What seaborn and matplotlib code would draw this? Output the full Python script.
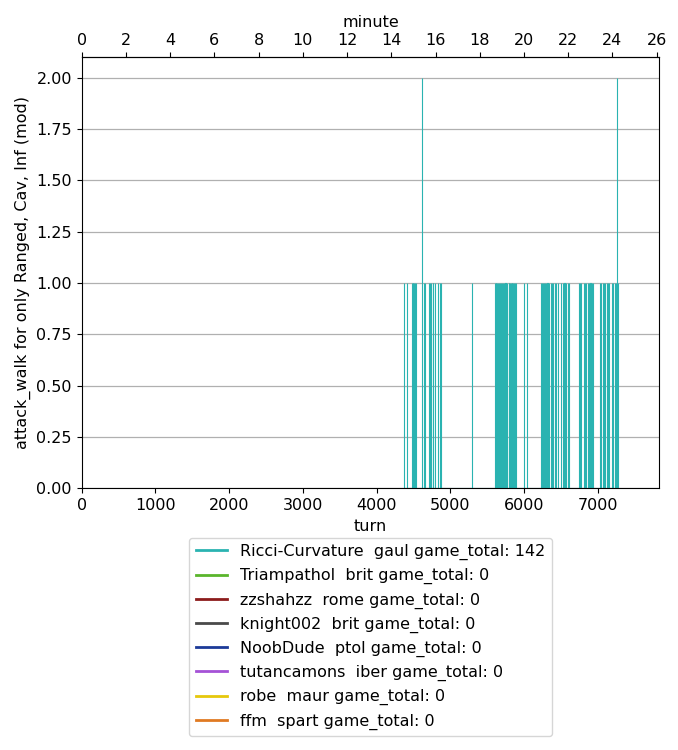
import matplotlib
matplotlib.use("Agg")
import matplotlib.pyplot as plt
from matplotlib.lines import Line2D
from matplotlib.ticker import MultipleLocator, FormatStrFormatter
import seaborn as sns
import pandas as pd

# ---- data ----
players = ["Ricci-Curvature", "Triampathol", "zzshahzz", "knight002",
           "NoobDude", "tutancamons", "robe", "ffm"]
civs = ["gaul", "brit", "rome", "brit", "ptol", "iber", "maur", "spart"]
game_totals = [142, 0, 0, 0, 0, 0, 0, 0]
player_colors = ["#2ab3b1", "#5ab52c", "#8c1c1c", "#4a4a4a",
                 "#1c3a98", "#a552d6", "#e6c80c", "#e07a22"]

# turns with an attack_walk event for Ricci-Curvature
event_turns = [
    4378, 4410,
    4478, 4490, 4500, 4512, 4522, 4530,
    4620, 4638, 4652,
    4717, 4728, 4745, 4760, 4772, 4790,
    4839, 4856, 4876,
    5300,
    5613, 5618, 5626, 5640, 5650, 5659, 5676, 5694, 5700, 5713, 5727, 5744,
    5750, 5762, 5776, 5795, 5800, 5812, 5826, 5835, 5843, 5857, 5865, 5876, 5893,
    5998, 6047,
    6233, 6251, 6264, 6278, 6291, 6305, 6319, 6332, 6346, 6365, 6382, 6400,
    6419, 6437, 6460,
    6505, 6528, 6550, 6573, 6596, 6617,
    6742, 6760, 6779, 6810, 6829, 6848, 6866, 6883, 6903, 6921, 6939,
    7030, 7048, 7067, 7085, 7102, 7121, 7139, 7157, 7193, 7212, 7231, 7249,
    7262, 7274,
]
event_values = [2 if t in (4620, 7262) else 1 for t in event_turns]

minute_ticks = list(range(0, 27, 2))
turns_per_minute = 300

# ---- plot ----
plt.rcParams["font.size"] = 11.5
fig = plt.figure(figsize=(6.78, 7.5), dpi=100)
ax = fig.add_axes([0.1205, 0.349, 0.852, 0.5747])

df = pd.DataFrame({"turn": event_turns, "value": event_values})
sns.histplot(data=df, x="turn", weights="value", discrete=True, ax=ax,
             color=player_colors[0], edgecolor=player_colors[0],
             linewidth=0.8, alpha=0.55, element="bars", fill=True)

ax.set_xlim(0, 7837)
ax.set_ylim(0, 2.1)
ax.yaxis.set_major_locator(MultipleLocator(0.25))
ax.yaxis.set_major_formatter(FormatStrFormatter("%.2f"))
ax.xaxis.set_major_locator(MultipleLocator(1000))
ax.grid(axis="y", color="#b0b0b0", linewidth=0.9)
ax.set_axisbelow(True)
ax.set_xlabel("turn")
ax.set_ylabel("attack_walk for only Ranged, Cav, Inf (mod)")

top = ax.secondary_xaxis("top", functions=(lambda t: t / turns_per_minute,
                                            lambda m: m * turns_per_minute))
top.set_xticks(minute_ticks)
top.set_xlabel("minute")

handles = [Line2D([0], [0], color=c, lw=2) for c in player_colors]
labels = [f"{p}  {c} game_total: {g}" for p, c, g in zip(players, civs, game_totals)]
ax.legend(handles, labels, loc="upper center", bbox_to_anchor=(0.5, -0.096),
          ncol=1, frameon=True)

fig.savefig("out.png", dpi=100)
